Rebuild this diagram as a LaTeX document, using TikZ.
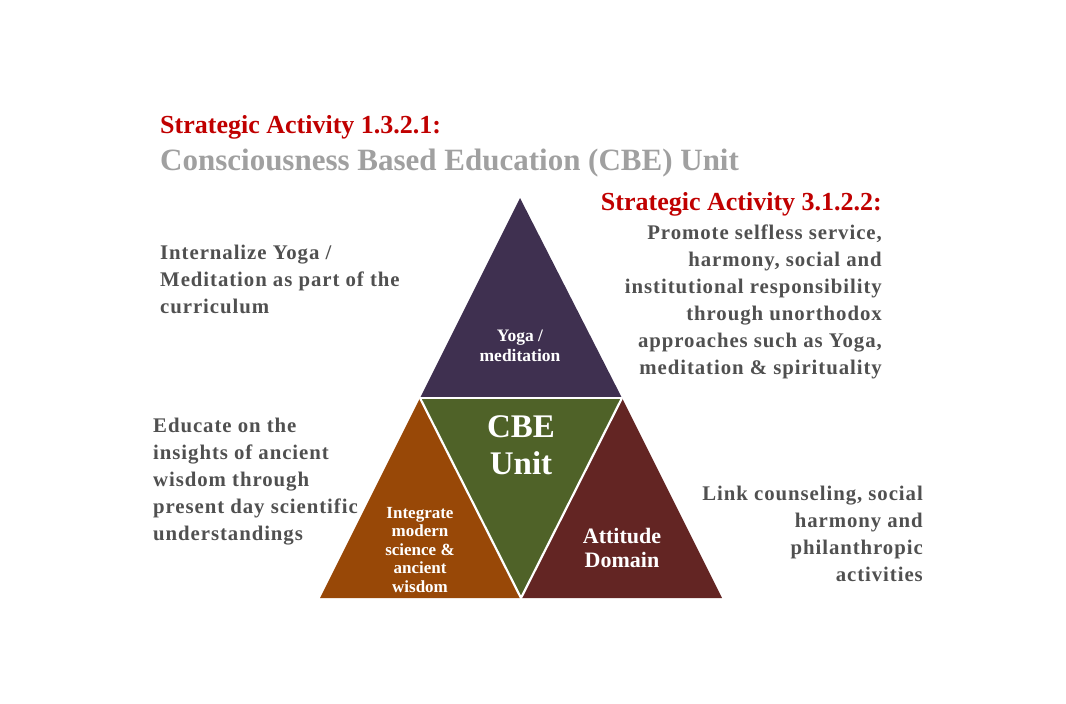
\documentclass[tikz,border=0pt]{standalone}
\usepackage{fontspec}
\setmainfont{Liberation Serif}
\definecolor{tpurple}{HTML}{3F3050}
\definecolor{tgreen}{HTML}{4F6228}
\definecolor{torange}{HTML}{984807}
\definecolor{tmaroon}{HTML}{632523}
\definecolor{tred}{HTML}{C00000}
\definecolor{tgray}{HTML}{A0A0A0}
\definecolor{tdark}{HTML}{505050}
\tikzset{
  headred/.style={inner sep=0pt, text=tred, font={\bfseries\fontsize{26}{30}\selectfont}},
  body/.style={inner sep=0pt, text=tdark, font={\bfseries\fontsize{20.8}{27}\selectfont\addfontfeature{LetterSpace=4.5}}},
  inlabel/.style={inner sep=0pt, text=white, align=center}
}
\begin{document}
\begin{tikzpicture}[x=1pt,y=-1pt]
\useasboundingbox (0,0) rectangle (1066,704);
% triangles
\coordinate (A) at (520,198);
\coordinate (B) at (420,398);
\coordinate (C) at (622,398);
\coordinate (D) at (521,598);
\coordinate (E) at (320,598);
\coordinate (F) at (722,598);
\fill[tpurple] (A) -- (B) -- (C) -- cycle;
\fill[tgreen] (B) -- (C) -- (D) -- cycle;
\fill[torange] (B) -- (E) -- (D) -- cycle;
\fill[tmaroon] (C) -- (D) -- (F) -- cycle;
\draw[white, line width=2.2pt] (B) -- (C);
\draw[white, line width=2.2pt] (B) -- (D) -- (C);
% titles
\node[headred, anchor=base west] (t1) at (160,133) {Strategic Activity 1.3.2.1:};
\node[inner sep=0pt, text=tgray, anchor=base west, font={\bfseries\fontsize{31}{34}\selectfont}] (t2) at (160,170) {Consciousness Based Education (CBE) Unit};
\node[headred, anchor=base east] (t3) at (882,210) {Strategic Activity 3.1.2.2:};
% body texts (anchor = baseline of last line)
\node[body, anchor=base east, align=right] (r1) at (882,374) {Promote selfless service,\\harmony, social and\\institutional responsibility\\through unorthodox\\approaches such as Yoga,\\meditation \& spirituality};
\node[body, anchor=base west, align=left] (l1) at (160,313) {Internalize Yoga /\\Meditation as part of the\\curriculum};
\node[body, anchor=base west, align=left] (l2) at (153,540) {Educate on the\\insights of ancient\\wisdom through\\present day scientific\\understandings};
\node[body, anchor=base east, align=right] (r2) at (923,581) {Link counseling, social\\harmony and\\philanthropic\\activities};
% inner labels
\node[inlabel, anchor=base, font={\bfseries\fontsize{17.5}{20}\selectfont}] (yoga) at (520,361) {Yoga /\\meditation};
\node[inlabel, anchor=base, font={\bfseries\fontsize{33}{37}\selectfont}] (cbe) at (521,474) {CBE\\Unit};
\node[inlabel, anchor=base, font={\bfseries\fontsize{17}{18.5}\selectfont}] (int) at (420,592) {Integrate\\modern\\science \&\\ancient\\wisdom};
\node[inlabel, anchor=base, font={\bfseries\fontsize{22}{24}\selectfont}] (att) at (622,567) {Attitude\\Domain};
\end{tikzpicture}
\end{document}
